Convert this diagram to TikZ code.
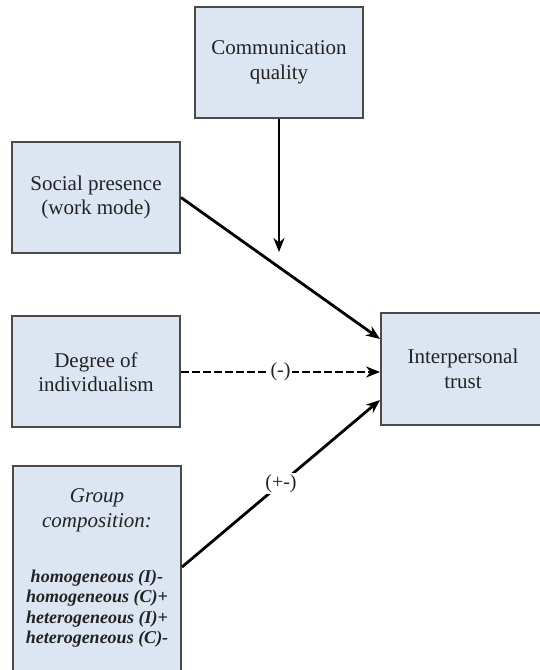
\documentclass[tikz,border=0pt]{standalone}
\usepackage{fontspec}
\setmainfont{Liberation Serif}
\usetikzlibrary{positioning,arrows.meta}
\definecolor{boxfill}{HTML}{DCE6F2}
\definecolor{boxline}{HTML}{4A4A4A}
\definecolor{txtgray}{HTML}{222222}

\begin{document}
\begin{tikzpicture}[x=1pt,y=1pt,
  var/.style={draw=boxline,line width=2pt,fill=boxfill,text=txtgray,align=center,
    inner sep=0pt,minimum width=168pt,font=\fontsize{21}{24.5}\selectfont},
  link/.style={line width=2.8pt,-{Stealth[length=14pt,width=11pt]}},
  sign/.style={fill=white,inner sep=1.5pt,text=txtgray,font=\fontsize{20}{24}\selectfont}]
\useasboundingbox (0,0) rectangle (540,670);
% variables
\node[var,minimum height=111pt] (comm) at (279,607.5) {Communication\\quality};
\node[var,minimum height=111pt] (soc) at (96,472.5) {Social presence\\(work mode)};
\node[var,minimum height=111pt] (deg) at (96,298) {Degree of\\individualism};
\node[var,minimum width=164pt,minimum height=112pt] (trust) at (463,301) {Interpersonal\\trust};
\node[var,anchor=north west] (grp) at (12,205) {\parbox[c][215pt][t]{168pt}{\centering
  \vspace*{23pt}{\itshape Group\\composition:\par}
  \vspace{35pt}{\fontsize{18}{20.2}\selectfont\bfseries\itshape
  homogeneous (I)-\\homogeneous (C)+\\heterogeneous (I)+\\heterogeneous (C)-\par}}};
% links
\coordinate (meet) at (279,418);
\draw[link] (comm) -- (meet);
\draw[link] (soc.east) -- ([yshift=30pt]trust.west);
\draw[link,dash pattern=on 7.5pt off 3.5pt] (deg.east) -- (deg.east -| trust.west)
  node[sign,midway] {(-)};
\draw[link] ([yshift=6.5pt]grp.east) -- ([yshift=-31pt]trust.west)
  node[sign,midway] {(+-)};
\end{tikzpicture}
\end{document}
